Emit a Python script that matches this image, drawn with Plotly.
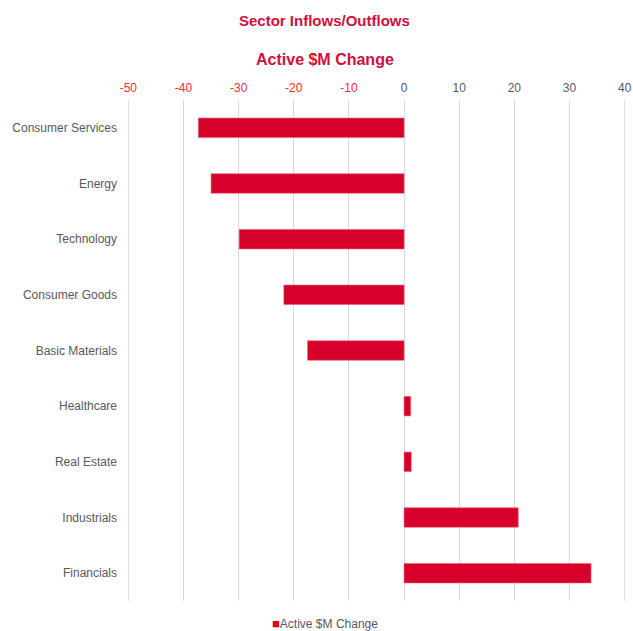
import plotly.graph_objects as go

# Sector flows, in $M (top to bottom as listed)
sectors = ["Consumer Services", "Energy", "Technology", "Consumer Goods",
           "Basic Materials", "Healthcare", "Real Estate", "Industrials", "Financials"]
active_change = [-37.3, -35.0, -29.9, -21.8, -17.5, 1.2, 1.3, 20.7, 33.9]

tick_vals = [-50, -40, -30, -20, -10, 0, 10, 20, 30, 40]
series_name = "Active $M Change"

BAR_RED = "#D7002A"
TITLE_RED = "#D0103A"
NEG_RED = "#FF2B2B"
GREY = "#595959"
GRID = "#D9D9D9"

tick_text = [
    f'<span style="color:{NEG_RED}">{v}</span>' if v < 0 else f'<span style="color:{GREY}">{v}</span>'
    for v in tick_vals
]

fig = go.Figure()
fig.add_trace(go.Bar(
    x=active_change,
    y=sectors,
    orientation="h",
    name=series_name,
    marker=dict(color=BAR_RED, line=dict(color="#E8607A", width=0.6)),
    width=0.35,
    showlegend=False,
))

# gridlines at the two ends of the value axis (plotly skips them at the plot edges)
for edge in (tick_vals[0], tick_vals[-1]):
    fig.add_shape(type="line", xref="x", yref="paper", x0=edge, x1=edge, y0=0, y1=1,
                  line=dict(color=GRID, width=1), layer="below")

fig.update_layout(
    width=633, height=631,
    margin=dict(l=128, r=8, t=100, b=30, autoexpand=False),
    paper_bgcolor="white", plot_bgcolor="white",
    font=dict(family="Liberation Sans, Arial, sans-serif", size=12, color=GREY),
    showlegend=False,
    annotations=[
        dict(text="<b>Sector Inflows/Outflows</b>", xref="paper", yref="paper",
             x=0.396, y=1.158, xanchor="center", yanchor="middle",
             showarrow=False, font=dict(size=15, color=TITLE_RED)),
        dict(text="<b>Active $M Change</b>", xref="paper", yref="paper",
             x=0.396, y=1.080, xanchor="center", yanchor="middle",
             showarrow=False, font=dict(size=16, color=TITLE_RED)),
        # legend key below the plot
        dict(text=f'<span style="color:{BAR_RED};font-size:13px">■</span>{series_name}',
             xref="paper", yref="paper",
             x=(270 - 128) / 497, y=(601 - 633) / 501, xanchor="left", yanchor="bottom",
             showarrow=False, font=dict(size=12, color=GREY)),
    ],
)

fig.update_xaxes(
    side="top",
    range=[-50.06, 40.06],
    tickvals=tick_vals,
    ticktext=tick_text,
    tickangle=0,
    tickfont=dict(size=12),
    ticklabelstandoff=5,
    showgrid=True, gridcolor=GRID, gridwidth=1,
    zeroline=True, zerolinecolor=GRID, zerolinewidth=1,
    showline=False,
    ticks="", ticklen=0,
    automargin=False,
    fixedrange=True,
)
fig.update_yaxes(
    autorange="reversed",
    categoryorder="array", categoryarray=sectors,
    tickfont=dict(size=12, color=GREY),
    showgrid=False, showline=False, ticks="",
    ticklabelstandoff=10,
    automargin=False,
    fixedrange=True,
)

fig.write_html("out.html")
